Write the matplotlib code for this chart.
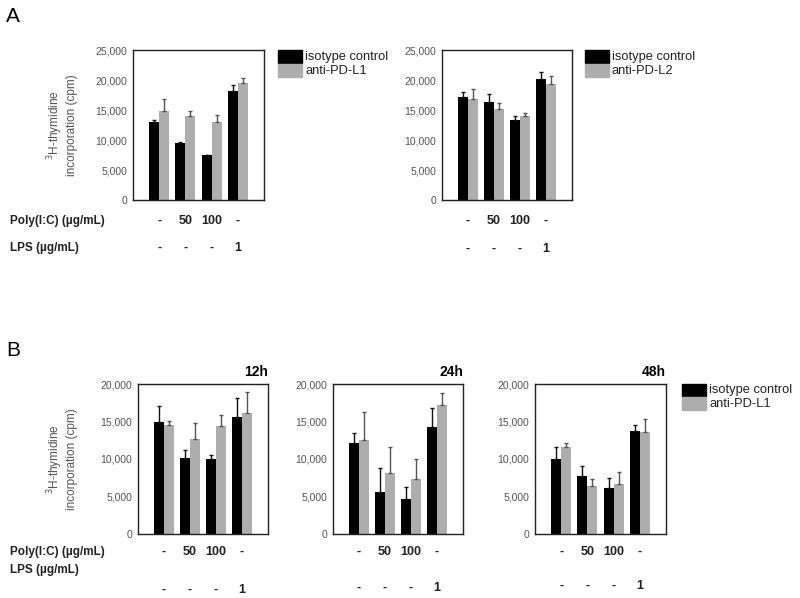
import numpy as np
from matplotlib import pyplot as plt
from matplotlib import transforms

plt.rcParams['font.family'] = ['Liberation Sans', 'DejaVu Sans']

# data (cpm)
poly_labels = ['-', '50', '100', '-']
lps_labels = ['-', '-', '-', '1']

# panel A, left
a1_iso = [13000, 9550, 7450, 18200]
a1_iso_sd = [300, 150, 100, 1000]
a1_pdl1 = [14900, 14050, 13000, 19500]
a1_pdl1_sd = [1900, 750, 1150, 900]

# panel A, right
a2_iso = [17100, 16300, 13400, 20200]
a2_iso_sd = [950, 1450, 550, 1150]
a2_pdl2 = [16800, 15100, 14050, 19400]
a2_pdl2_sd = [1650, 1000, 450, 1250]

# panel B, 12h / 24h / 48h
b12_iso = [15000, 10100, 10000, 15650]
b12_iso_sd = [2100, 1150, 600, 2500]
b12_pdl1 = [14500, 12700, 14450, 16200]
b12_pdl1_sd = [550, 2150, 1450, 2800]

b24_iso = [12200, 5600, 4700, 14300]
b24_iso_sd = [1250, 3150, 1600, 2450]
b24_pdl1 = [12500, 8100, 7400, 17200]
b24_pdl1_sd = [3800, 3450, 2600, 1650]

b48_iso = [10050, 7800, 6100, 13800]
b48_iso_sd = [1500, 1300, 1350, 750]
b48_pdl1 = [11550, 6450, 6650, 13600]
b48_pdl1_sd = [650, 900, 1600, 1800]

BLACK = '#000000'
GRAY = '#adadad'
W, H = 800, 598

fig = plt.figure(figsize=(8, 5.98), dpi=100)


def rect(x0, y0, x1, y1):
    return [x0 / W, 1 - y1 / H, (x1 - x0) / W, (y1 - y0) / H]


def fx(x):
    return x / W


def fy(y):
    return 1 - y / H


def panel(box, iso, iso_sd, other, other_sd, ymax, poly_y, lps_y, title=None):
    ax = fig.add_axes(rect(*box))
    x = np.arange(len(iso))
    bw = 0.38
    zeros = [0] * len(iso)
    ax.bar(x - bw / 2, iso, bw, color=BLACK, yerr=[zeros, iso_sd],
           error_kw=dict(ecolor='#111111', elinewidth=1, capsize=1.5, capthick=1))
    ax.bar(x + bw / 2, other, bw, color=GRAY, yerr=[zeros, other_sd],
           error_kw=dict(ecolor='#555555', elinewidth=1, capsize=1.5, capthick=1))
    ax.set_xlim(-1, 4)
    ax.set_ylim(0, ymax)
    ax.set_xticks([])
    ticks = np.arange(0, ymax + 1, 5000)
    ax.set_yticks(ticks)
    ax.set_yticklabels(['{:,}'.format(int(t)) for t in ticks], fontsize=7.5, color='#555555')
    ax.tick_params(axis='y', length=0, pad=4)
    for s in ax.spines.values():
        s.set_color('#222222')
        s.set_linewidth(1)
    tr = transforms.blended_transform_factory(ax.transData, fig.transFigure)
    for i in range(len(iso)):
        ax.text(x[i], fy(poly_y), poly_labels[i], transform=tr, ha='center', va='center',
                fontsize=9, fontweight='bold', color='#222222')
        ax.text(x[i], fy(lps_y), lps_labels[i], transform=tr, ha='center', va='center',
                fontsize=9, fontweight='bold', color='#222222')
    if title:
        ax.text(1.0, 1.03, title, transform=ax.transAxes, ha='right', va='bottom',
                fontsize=10, fontweight='bold')
    return ax


def legend(x, y, other_label):
    for i, (c, lab) in enumerate([(BLACK, 'isotype control'), (GRAY, other_label)]):
        fig.patches.append(plt.Rectangle((fx(x), fy(y + 12 + i * 13.5)), 24 / W, 12.5 / H,
                                         transform=fig.transFigure, color=c))
        fig.text(fx(x + 27), fy(y + 6 + i * 14), lab, fontsize=9.3, va='center', color='#222222')


ylab = '$^{3}$H-thymidine\nincorporation (cpm)'

# panel A
fig.text(fx(6), fy(16), 'A', fontsize=15, va='center')
panel((133, 50, 264, 200), a1_iso, a1_iso_sd, a1_pdl1, a1_pdl1_sd, 25000, 221, 248)
panel((442, 50, 572, 200), a2_iso, a2_iso_sd, a2_pdl2, a2_pdl2_sd, 25000, 221, 249)
fig.text(fx(62), fy(125), ylab, rotation=90, ha='center', va='center', fontsize=8.5,
         color='#555555', linespacing=1.1)
fig.text(fx(10), fy(221), 'Poly(I:C) (µg/mL)', fontsize=8.5, fontweight='bold', va='center', color='#222222')
fig.text(fx(10), fy(248), 'LPS (µg/mL)', fontsize=8.5, fontweight='bold', va='center', color='#222222')
legend(278, 51, 'anti-PD-L1')
legend(585, 51, 'anti-PD-L2')

# panel B
fig.text(fx(6), fy(351), 'B', fontsize=15, va='center')
panel((138, 384, 268, 534), b12_iso, b12_iso_sd, b12_pdl1, b12_pdl1_sd, 20000, 552, 590, '12h')
panel((333, 384, 463, 534), b24_iso, b24_iso_sd, b24_pdl1, b24_pdl1_sd, 20000, 552, 588, '24h')
panel((535, 384, 666, 534), b48_iso, b48_iso_sd, b48_pdl1, b48_pdl1_sd, 20000, 552, 586, '48h')
fig.text(fx(62), fy(459), ylab, rotation=90, ha='center', va='center', fontsize=8.5,
         color='#555555', linespacing=1.1)
fig.text(fx(10), fy(552), 'Poly(I:C) (µg/mL)', fontsize=8.5, fontweight='bold', va='center', color='#222222')
fig.text(fx(10), fy(570), 'LPS (µg/mL)', fontsize=8.5, fontweight='bold', va='center', color='#222222')
legend(682, 384, 'anti-PD-L1')

plt.savefig('out.png', dpi=100)
